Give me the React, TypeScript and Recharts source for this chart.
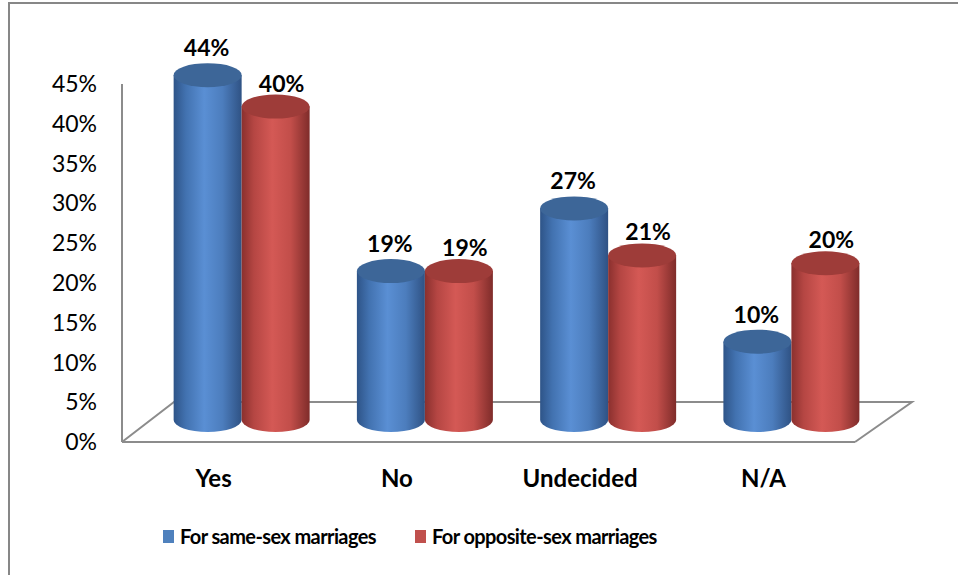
import { BarChart, Bar, XAxis, YAxis, Legend, LabelList, Customized } from "recharts";

const categories = ["Yes", "No", "Undecided", "N/A"];
const sameSex = [44, 19, 27, 10];
const oppositeSex = [40, 19, 21, 20];
const yTicks = [0, 5, 10, 15, 20, 25, 30, 35, 40, 45];
const seriesNames = ["For same-sex marriages", "For opposite-sex marriages"];

const data = categories.map((category, i) => ({
  category,
  same: sameSex[i],
  opposite: oppositeSex[i],
}));

// layout
const W = 958;
const H = 575;
const MARGIN = { top: 84, right: 103, bottom: 103, left: 62 };
const Y_AXIS_W = 60;
const X_AXIS_H = 30;
const FLOOR_DX_LEFT = 52;
const FLOOR_DX_RIGHT = 57;
const FLOOR_DY = 40;
const BAR_DX = 28;
const BAR_DY = 22;
const RY = 12;
const FONT = "Lato, 'Open Sans', sans-serif";
const AXIS_GRAY = "#8c8c8c";

const COLORS = {
  same: { base: "#4f81bd", top: "#3d6698", id: "gradBlue" },
  opposite: { base: "#c0504d", top: "#9e3c39", id: "gradRed" },
};

const cylinderGeom = (x: number, y: number, width: number, height: number) => {
  const base = y + height;
  const left = x + BAR_DX;
  const yb = base - BAR_DY;
  const yt = yb - height * 0.985;
  return { left, yb, yt, rx: width / 2, cx: left + width / 2 };
};

const makeCylinder = (kind: "same" | "opposite") => (props: any) => {
  const { x, y, width, height } = props;
  if (width == null || height == null) return null;
  const { left, yb, yt, rx, cx } = cylinderGeom(x, y, width, height);
  const right = left + width;
  const c = COLORS[kind];
  const body = `M${left},${yt} L${left},${yb} A${rx},${RY} 0 0 0 ${right},${yb} L${right},${yt} Z`;
  return (
    <g>
      <path d={body} fill={`url(#${c.id})`} />
      <ellipse cx={cx} cy={yt} rx={rx} ry={RY} fill={c.top} />
    </g>
  );
};

const makeLabel = (lift: number, shift: number) => (props: any) => {
  const { x, y, width, height, value } = props;
  if (width == null || height == null) return null;
  const { yt, cx } = cylinderGeom(x, y, width, height);
  return (
    <text
      x={cx + shift}
      y={yt - lift}
      textAnchor="middle"
      fontFamily={FONT}
      fontWeight={700}
      fontSize={23}
      fill="#000"
    >
      {`${value}%`}
    </text>
  );
};

const Floor = () => {
  const l = MARGIN.left + Y_AXIS_W;
  const r = W - MARGIN.right;
  const b = H - MARGIN.bottom - X_AXIS_H;
  const pts = `${l},${b} ${l + FLOOR_DX_LEFT},${b - FLOOR_DY} ${r + FLOOR_DX_RIGHT},${b - FLOOR_DY} ${r},${b}`;
  return (
    <g>
      <defs>
        <linearGradient id="gradBlue" x1="0" y1="0" x2="1" y2="0">
          <stop offset="0%" stopColor="#2e5488" />
          <stop offset="18%" stopColor="#4272b0" />
          <stop offset="45%" stopColor="#5a8fd4" />
          <stop offset="72%" stopColor="#4c7dbd" />
          <stop offset="100%" stopColor="#2f5284" />
        </linearGradient>
        <linearGradient id="gradRed" x1="0" y1="0" x2="1" y2="0">
          <stop offset="0%" stopColor="#8a302e" />
          <stop offset="18%" stopColor="#b54643" />
          <stop offset="45%" stopColor="#d45955" />
          <stop offset="72%" stopColor="#c24e4a" />
          <stop offset="100%" stopColor="#7f2c2a" />
        </linearGradient>
      </defs>
      <polyline points={pts} fill="none" stroke={AXIS_GRAY} strokeWidth={2} />
    </g>
  );
};

const LegendContent = () => (
  <div
    style={{
      display: "flex",
      alignItems: "center",
      fontFamily: FONT,
      fontWeight: 700,
      fontSize: 20,
      letterSpacing: -0.6,
      whiteSpace: "nowrap",
    }}
  >
    {(["same", "opposite"] as const).map((k, i) => (
      <div key={k} style={{ display: "flex", alignItems: "center", marginRight: 39 }}>
        <span style={{ width: 11, height: 13, background: COLORS[k].base, marginRight: 6, display: "inline-block" }} />
        <span>{seriesNames[i]}</span>
      </div>
    ))}
  </div>
);

export default function App() {
  return (
    <div style={{ position: "absolute", left: 0, top: 0, width: W, height: H, overflow: "hidden", background: "#fff" }}>
      <div
        style={{
          position: "absolute",
          left: 8,
          top: 2,
          width: W + 20,
          height: H + 20,
          borderTop: "2px solid #878787",
          borderLeft: "2px solid #878787",
        }}
      />
      <BarChart
        width={W}
        height={H}
        data={data}
        margin={MARGIN}
        barCategoryGap="12.9%"
        barGap={0}
        style={{ position: "absolute", left: 0, top: 0 }}
      >
        <Customized component={Floor} />
        <XAxis
          dataKey="category"
          height={X_AXIS_H}
          axisLine={{ stroke: AXIS_GRAY, strokeWidth: 2 }}
          tickLine={false}
          tickMargin={22}
          tick={{ fill: "#000", fontFamily: FONT, fontWeight: 700, fontSize: 24 }}
        />
        <YAxis
          width={Y_AXIS_W}
          domain={[0, 45]}
          ticks={yTicks}
          interval={0}
          tickFormatter={(v) => `${v}%`}
          axisLine={{ stroke: AXIS_GRAY, strokeWidth: 2 }}
          tickLine={false}
          tickMargin={19}
          tick={{ fill: "#000", fontFamily: FONT, fontSize: 23 }}
        />
        <Legend
          layout="horizontal"
          verticalAlign="middle"
          align="center"
          content={<LegendContent />}
          wrapperStyle={{ left: 163, top: 524, width: "auto" }}
        />
        <Bar dataKey="same" name={seriesNames[0]} fill={COLORS.same.base} shape={makeCylinder("same")} isAnimationActive={false}>
          <LabelList dataKey="same" content={makeLabel(19, -1)} />
        </Bar>
        <Bar
          dataKey="opposite"
          name={seriesNames[1]}
          fill={COLORS.opposite.base}
          shape={makeCylinder("opposite")}
          isAnimationActive={false}
        >
          <LabelList dataKey="opposite" content={makeLabel(15, 6)} />
        </Bar>
      </BarChart>
    </div>
  );
}
